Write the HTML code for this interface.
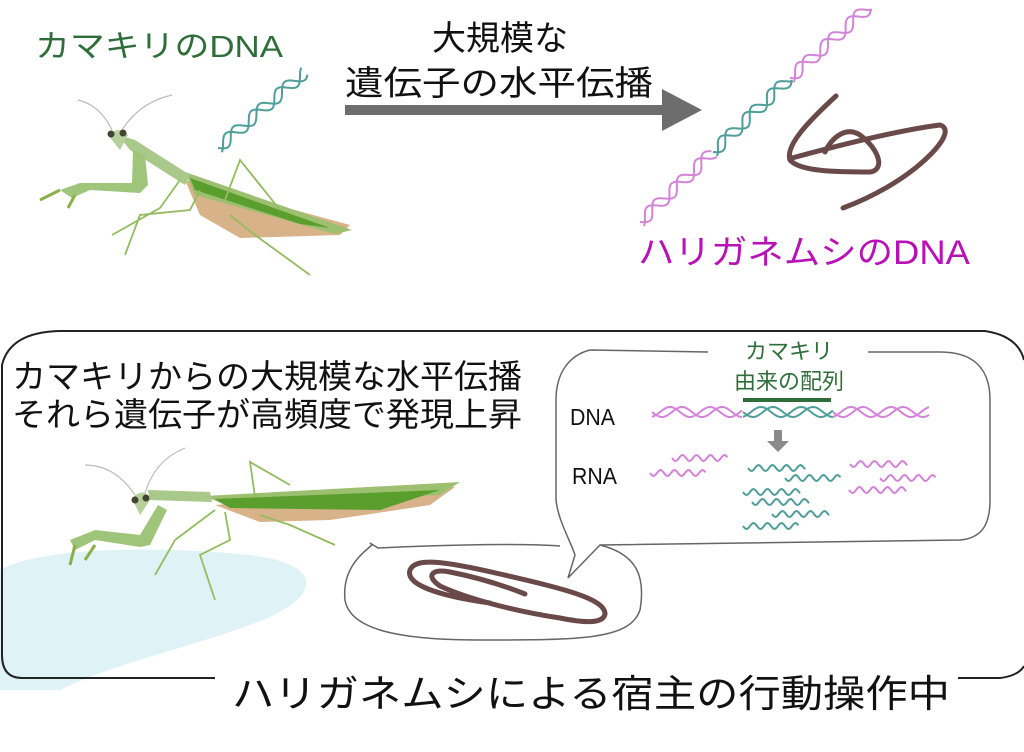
<!DOCTYPE html>
<html><head><meta charset="utf-8"><style>
html,body{margin:0;padding:0;background:#fff;}
svg{display:block}
text{font-family:"Liberation Sans","Noto Sans CJK JP",sans-serif;}
</style></head><body>
<svg id="s" width="1024" height="752" viewBox="0 0 1024 752" xmlns="http://www.w3.org/2000/svg">
<path d="M0,570 C40,548 150,545 250,555 C330,565 320,600 250,625 C180,650 110,665 60,690 L0,690 Z" fill="#dff2f6"/>
<path d="M215,678 L22,678 Q2,678 2,655 L2,365 Q10,332 60,331 L985,331 Q1018,336 1024,360" fill="none" stroke="#222" stroke-width="2"/>
<path d="M958,678 L1000,678 Q1018,676 1024,666" fill="none" stroke="#222" stroke-width="2"/>

<text x="35" y="57" font-size="31" fill="#2f6e3a" textLength="248" lengthAdjust="spacingAndGlyphs">カマキリのDNA</text>
<text x="500" y="50" font-size="34" fill="#111" text-anchor="middle">大規模な</text>
<text x="345" y="95" font-size="34" fill="#111" textLength="308" lengthAdjust="spacingAndGlyphs">遺伝子の水平伝播</text>
<path d="M345,105 L662,105 L662,89 L702,110 L662,131 L662,115 L345,115 Z" fill="#6d6d6d"/>
<text x="638" y="264" font-size="34" fill="#b612b6" textLength="332" lengthAdjust="spacingAndGlyphs">ハリガネムシのDNA</text>

<text x="12" y="388" font-size="33" fill="#111" textLength="510" lengthAdjust="spacingAndGlyphs">カマキリからの大規模な水平伝播</text>
<text x="12" y="426" font-size="33" fill="#111" textLength="510" lengthAdjust="spacingAndGlyphs">それら遺伝子が高頻度で発現上昇</text>
<text x="232" y="707" font-size="38" fill="#111" textLength="718" lengthAdjust="spacingAndGlyphs">ハリガネムシによる宿主の行動操作中</text>

<path d="M590,350 C570,355 556,372 556,400 L556,500 C558,520 570,540 575,555 L568,578 L600,545 L960,540 C985,538 990,520 990,500 L990,400 C990,370 975,352 940,352 L868,352 M708,352 L590,350" fill="none" stroke="#666" stroke-width="1.5"/>
<path d="M600,545 C640,555 645,580 640,610 C630,640 580,640 480,640 C400,640 350,630 345,600 C342,570 360,555 372,545 L370,543 L378,548 C440,545 520,543 560,546" fill="none" stroke="#666" stroke-width="1.5"/>
<text x="789" y="359" font-size="22" fill="#2f6e3a" text-anchor="middle">カマキリ</text>
<text x="789" y="389" font-size="22" fill="#2f6e3a" text-anchor="middle">由来の配列</text>
<rect x="743" y="398" width="88" height="4" fill="#2f6e3a"/>
<text x="570" y="425" font-size="23" fill="#111" textLength="45" lengthAdjust="spacingAndGlyphs">DNA</text>
<text x="572" y="484" font-size="23" fill="#111" textLength="45" lengthAdjust="spacingAndGlyphs">RNA</text>
<path d="M774,430 L782,430 L782,441 L789,441 L778,452 L767,441 L774,441 Z" fill="#8a8a8a"/>

<path d="M836,96 C810,120 785,145 790,160 C800,172 840,172 870,172 C885,170 880,150 860,135 C845,125 830,140 825,152 M792,158 C840,145 900,130 940,125 C950,128 945,140 930,155 C905,180 870,198 843,208" fill="none" stroke="#6a4a48" stroke-width="5" stroke-linecap="round" stroke-linejoin="round"/>
<path d="M490,603 C440,596 405,585 410,570 C415,558 440,560 500,574 C560,588 605,598 605,614 C603,625 580,622 560,618 C520,612 470,600 440,586 C425,576 432,568 450,572 C480,578 505,586 525,594" fill="none" stroke="#6a4a48" stroke-width="5" stroke-linecap="round"/>

<g id="dyn"></g>

<g>
<path d="M78,100 Q100,105 112,130 M172,95 Q140,102 122,130" stroke="#bbb" stroke-width="1.2" fill="none"/>
<path d="M185,180 L350,225 L340,235 L240,238 L200,215 Z" fill="#d8b288"/>
<path d="M185,172 L352,230 L335,234 L195,195 Z" fill="#9cbf70"/>
<path d="M190,178 L330,228 L300,224 L195,190 Z" fill="#5a9e2e"/>
<path d="M118,135 L135,140 L190,175 L185,185 L130,150 Z" fill="#a9c98a"/>
<path d="M108,135 Q120,125 128,135 L120,150 Z" fill="#b7cf9a"/>
<circle cx="111" cy="134" r="3.5" fill="#443"/><circle cx="123" cy="133" r="3.5" fill="#443"/>
<path d="M133,150 L145,155 L148,185 L140,193 L90,190 L72,198 L60,190 L80,183 L132,183 Z" fill="#9fc57a"/>
<path d="M60,190 L40,200 M75,195 L68,208" stroke="#8ab04a" stroke-width="3"/>
<path d="M180,180 L160,208 L112,235 M200,190 L190,210 L140,215 L125,255 M225,200 L240,160 L280,210 M230,215 L255,235 L310,275" stroke="#95bb60" stroke-width="1.8" fill="none"/>
</g>
<g>
<path d="M85,465 Q115,465 135,495 M185,448 Q155,460 145,493" stroke="#bbb" stroke-width="1.2" fill="none"/>
<path d="M215,505 L455,487 L430,505 L330,520 L260,522 Z" fill="#d8b288"/>
<path d="M205,496 L460,482 L440,495 L225,505 Z" fill="#9cbf70"/>
<path d="M215,499 L440,490 L380,510 L230,508 Z" fill="#5a9e2e"/>
<path d="M148,490 L210,492 L212,502 L150,500 Z" fill="#a9c98a"/>
<path d="M132,498 Q145,486 150,500 L140,515 Z" fill="#b7cf9a"/>
<circle cx="135" cy="500" r="3.5" fill="#443"/><circle cx="146" cy="498" r="3.5" fill="#443"/>
<path d="M158,505 L167,510 L150,545 L140,547 L95,540 L75,550 L70,540 L95,530 L140,535 Z" fill="#9fc57a"/>
<path d="M75,545 L70,565 M95,545 L85,560" stroke="#8ab04a" stroke-width="3"/>
<path d="M215,510 L175,540 L155,575 M225,512 L230,540 L200,555 L215,600 M255,497 L250,462 L290,485 M260,515 L290,525 L335,545" stroke="#95bb60" stroke-width="1.8" fill="none"/>
</g>
</svg>
<script>
var g=document.getElementById('dyn'),NS='http://www.w3.org/2000/svg';
function P(d,c,w){var p=document.createElementNS(NS,'path');p.setAttribute('d',d);p.setAttribute('stroke',c);p.setAttribute('stroke-width',w||2);p.setAttribute('fill','none');g.appendChild(p);}
function helix(x1,y1,x2,y2,a,per,c,both){var dx=x2-x1,dy=y2-y1,L=Math.hypot(dx,dy),ux=dx/L,uy=dy/L,nx=-uy,ny=ux;
 for(var k=0;k<(both?2:1);k++){var d='';for(var t=0;t<=L;t+=1.5){var o=a*Math.sin(t/per*2*Math.PI+k*Math.PI*0.6);d+=(t?'L':'M')+(x1+ux*t+nx*o).toFixed(1)+','+(y1+uy*t+ny*o).toFixed(1);}P(d,c,2);}}
var T='#4f9e9a',M='#d383d8';
helix(218,148,305,72,6,34,T,1);
helix(640,222,713,152,6,34,M,1);helix(713,152,790,78,6,34,T,1);helix(790,78,870,6,6,34,M,1);
helix(652,412,743,412,5,40,M,1);helix(743,412,833,412,5,40,T,1);helix(833,412,930,412,5,40,M,1);
function wave(x,y,l,c){helix(x,y,x+l,y,3,14,c,0);}
wave(672,458,56,M);wave(650,473,56,M);
wave(748,468,57,T);wave(785,478,56,T);wave(743,492,57,T);wave(752,502,57,T);wave(772,514,57,T);wave(743,526,56,T);
wave(850,464,57,M);wave(880,478,56,M);wave(849,490,57,M);
</script>
</body></html>
